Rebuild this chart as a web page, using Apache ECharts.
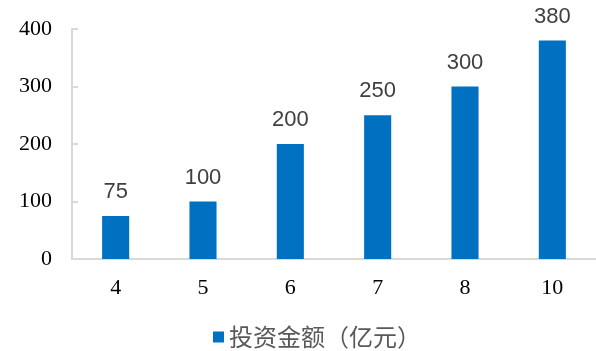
<!DOCTYPE html>
<html><head><meta charset="utf-8">
<script src="https://cdn.jsdelivr.net/npm/echarts@6/dist/echarts.min.js"></script>
<style>html,body{margin:0;padding:0;background:#fff}#c{width:596px;height:351px}</style>
</head><body><div id="c"></div>
<script>
const categories = ['4','5','6','7','8','10'];
const values = [75, 100, 200, 250, 300, 380];
const seriesName = '投资金额（亿元）';
const chart = echarts.init(document.getElementById('c'));
chart.setOption({
  animation: false,
  grid: {left: 72, right: 0, top: 29, bottom: 92},
  legend: {
    top: 325, left: 213, padding: 0, itemWidth: 11, itemHeight: 11, itemGap: 8,
    icon: 'rect',
    textStyle: {fontFamily: '"Noto Sans CJK SC"', fontSize: 24, color: '#595959', lineHeight: 24},
    data: [seriesName]
  },
  xAxis: {
    type: 'category', data: categories,
    axisLine: {lineStyle: {color: '#D9D9D9', width: 2}},
    axisTick: {show: false},
    axisLabel: {fontFamily: '"Liberation Serif"', fontSize: 22, color: '#000', margin: 18}
  },
  yAxis: {
    type: 'value', min: 0, max: 400, interval: 100,
    axisLine: {show: true, lineStyle: {color: '#D9D9D9', width: 2}},
    axisTick: {show: true, inside: true, length: 6, lineStyle: {color: '#D9D9D9', width: 2}},
    splitLine: {show: false},
    axisLabel: {fontFamily: '"Liberation Serif"', fontSize: 22, color: '#000', margin: 20}
  },
  series: [{
    name: seriesName, type: 'bar', data: values, barWidth: '31%',
    itemStyle: {color: '#0070C0'},
    label: {show: true, position: 'top', distance: 13, fontFamily: '"Liberation Sans"', fontSize: 22, color: '#404040'}
  }]
});
</script></body></html>
